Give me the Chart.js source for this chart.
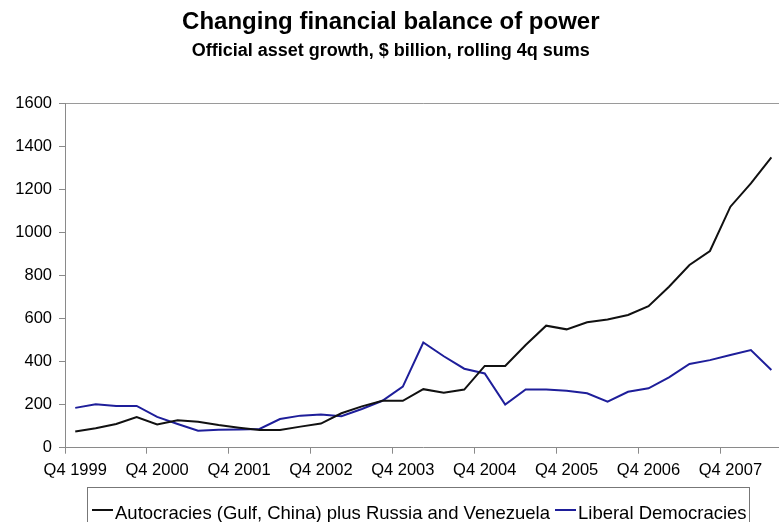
<!DOCTYPE html>
<html>
<head>
<meta charset="utf-8">
<script src="https://cdn.jsdelivr.net/npm/chart.js@4/dist/chart.umd.min.js"></script>
<style>
  html, body { margin: 0; padding: 0; background: #fff; overflow: hidden; }
  #wrap { position: absolute; left: 0; top: 0; width: 790px; height: 522px; }
</style>
</head>
<body>
<div id="wrap"><canvas id="c" width="790" height="522"></canvas></div>
<script>
const categories = [
  'Q4 1999','Q1 2000','Q2 2000','Q3 2000',
  'Q4 2000','Q1 2001','Q2 2001','Q3 2001',
  'Q4 2001','Q1 2002','Q2 2002','Q3 2002',
  'Q4 2002','Q1 2003','Q2 2003','Q3 2003',
  'Q4 2003','Q1 2004','Q2 2004','Q3 2004',
  'Q4 2004','Q1 2005','Q2 2005','Q3 2005',
  'Q4 2005','Q1 2006','Q2 2006','Q3 2006',
  'Q4 2006','Q1 2007','Q2 2007','Q3 2007',
  'Q4 2007','Q1 2008','Q2 2008'
];
const autocracies = [75, 90, 110, 142, 108, 128, 121, 105, 93, 82, 82, 98, 112, 160, 192, 218, 218, 272, 255, 270, 380, 380, 477, 567, 550, 583, 596, 617, 658, 748, 849, 914, 1120, 1228, 1349];
const liberalDemocracies = [185, 202, 194, 194, 143, 110, 79, 83, 85, 87, 133, 149, 154, 146, 180, 218, 284, 489, 425, 367, 345, 200, 271, 271, 265, 253, 214, 260, 276, 327, 389, 407, 431, 454, 361];
const seriesNames = ['Autocracies (Gulf, China) plus Russia and Venezuela', 'Liberal Democracies'];
const yTicks = [0, 200, 400, 600, 800, 1000, 1200, 1400, 1600];

const FONT = "'Liberation Sans', Arial, Helvetica, sans-serif";
const AXIS = '#8a8a8a';

const legendBox = {
  id: 'legendBox',
  afterDraw(chart) {
    const ctx = chart.ctx;
    ctx.save();
    const left = 87, top = 487, right = 749;
    ctx.strokeStyle = '#777';
    ctx.lineWidth = 1;
    ctx.strokeRect(left + 0.5, top + 0.5, right - left, 60);
    ctx.font = '18.5px ' + FONT;
    ctx.textBaseline = 'alphabetic';
    ctx.fillStyle = '#000';
    let x = left + 5;
    chart.data.datasets.forEach(ds => {
      ctx.strokeStyle = ds.borderColor;
      ctx.lineWidth = 2;
      ctx.beginPath();
      ctx.moveTo(x, 510);
      ctx.lineTo(x + 21, 510);
      ctx.stroke();
      ctx.fillText(ds.label, x + 23, 518.5);
      x += 23 + ctx.measureText(ds.label).width + 5;
    });
    ctx.restore();
  }
};

new Chart(document.getElementById('c'), {
  type: 'line',
  data: {
    labels: categories,
    datasets: [
      { label: seriesNames[0], data: autocracies, borderColor: '#111111', backgroundColor: '#111111', borderWidth: 2, pointRadius: 0, tension: 0 },
      { label: seriesNames[1], data: liberalDemocracies, borderColor: '#1e1e9a', backgroundColor: '#1e1e9a', borderWidth: 2, pointRadius: 0, tension: 0 }
    ]
  },
  options: {
    responsive: false,
    animation: false,
    devicePixelRatio: 1,
    layout: { padding: { left: 0, right: 8.4, top: 0, bottom: 44.3 } },
    plugins: {
      legend: { display: false },
      tooltip: { enabled: false },
      title: {
        display: true,
        text: 'Changing financial balance of power',
        color: '#000',
        font: { family: FONT, size: 24, weight: 'bold', lineHeight: 1.2 },
        padding: { top: 8, bottom: 0 }
      },
      subtitle: {
        display: true,
        text: 'Official asset growth, $ billion, rolling 4q sums',
        color: '#000',
        font: { family: FONT, size: 18, weight: 'bold', lineHeight: 1.2 },
        padding: { top: 3, bottom: 42 }
      }
    },
    scales: {
      x: {
        type: 'category',
        offset: true,
        afterFit: s => { s.height = 30; },
        border: { display: true, color: AXIS, width: 1 },
        grid: {
          offset: true,
          drawOnChartArea: false,
          drawTicks: true,
          tickLength: 6,
          tickColor: c => (c.index % 4 === 0 ? AXIS : 'rgba(0,0,0,0)'),
          color: 'rgba(0,0,0,0)'
        },
        ticks: {
          autoSkip: false,
          maxRotation: 0,
          minRotation: 0,
          padding: 6.5,
          color: '#000',
          font: { family: FONT, size: 16.5 },
          callback: function (v, i) { return i % 4 === 0 ? categories[i] : ''; }
        }
      },
      y: {
        min: yTicks[0],
        max: yTicks[yTicks.length - 1],
        afterFit: s => { s.width = 65; },
        afterBuildTicks: s => { s.ticks = yTicks.map(v => ({ value: v })); },
        border: { display: true, color: AXIS, width: 1 },
        grid: {
          drawOnChartArea: true,
          drawTicks: true,
          tickLength: 6,
          tickColor: AXIS,
          color: c => (c.tick && c.tick.value === 1600 ? '#9a9a9a' : 'rgba(0,0,0,0)')
        },
        ticks: {
          padding: 7,
          color: '#000',
          font: { family: FONT, size: 16.5 },
          callback: v => String(v)
        }
      }
    }
  },
  plugins: [legendBox]
});
</script>
</body>
</html>
